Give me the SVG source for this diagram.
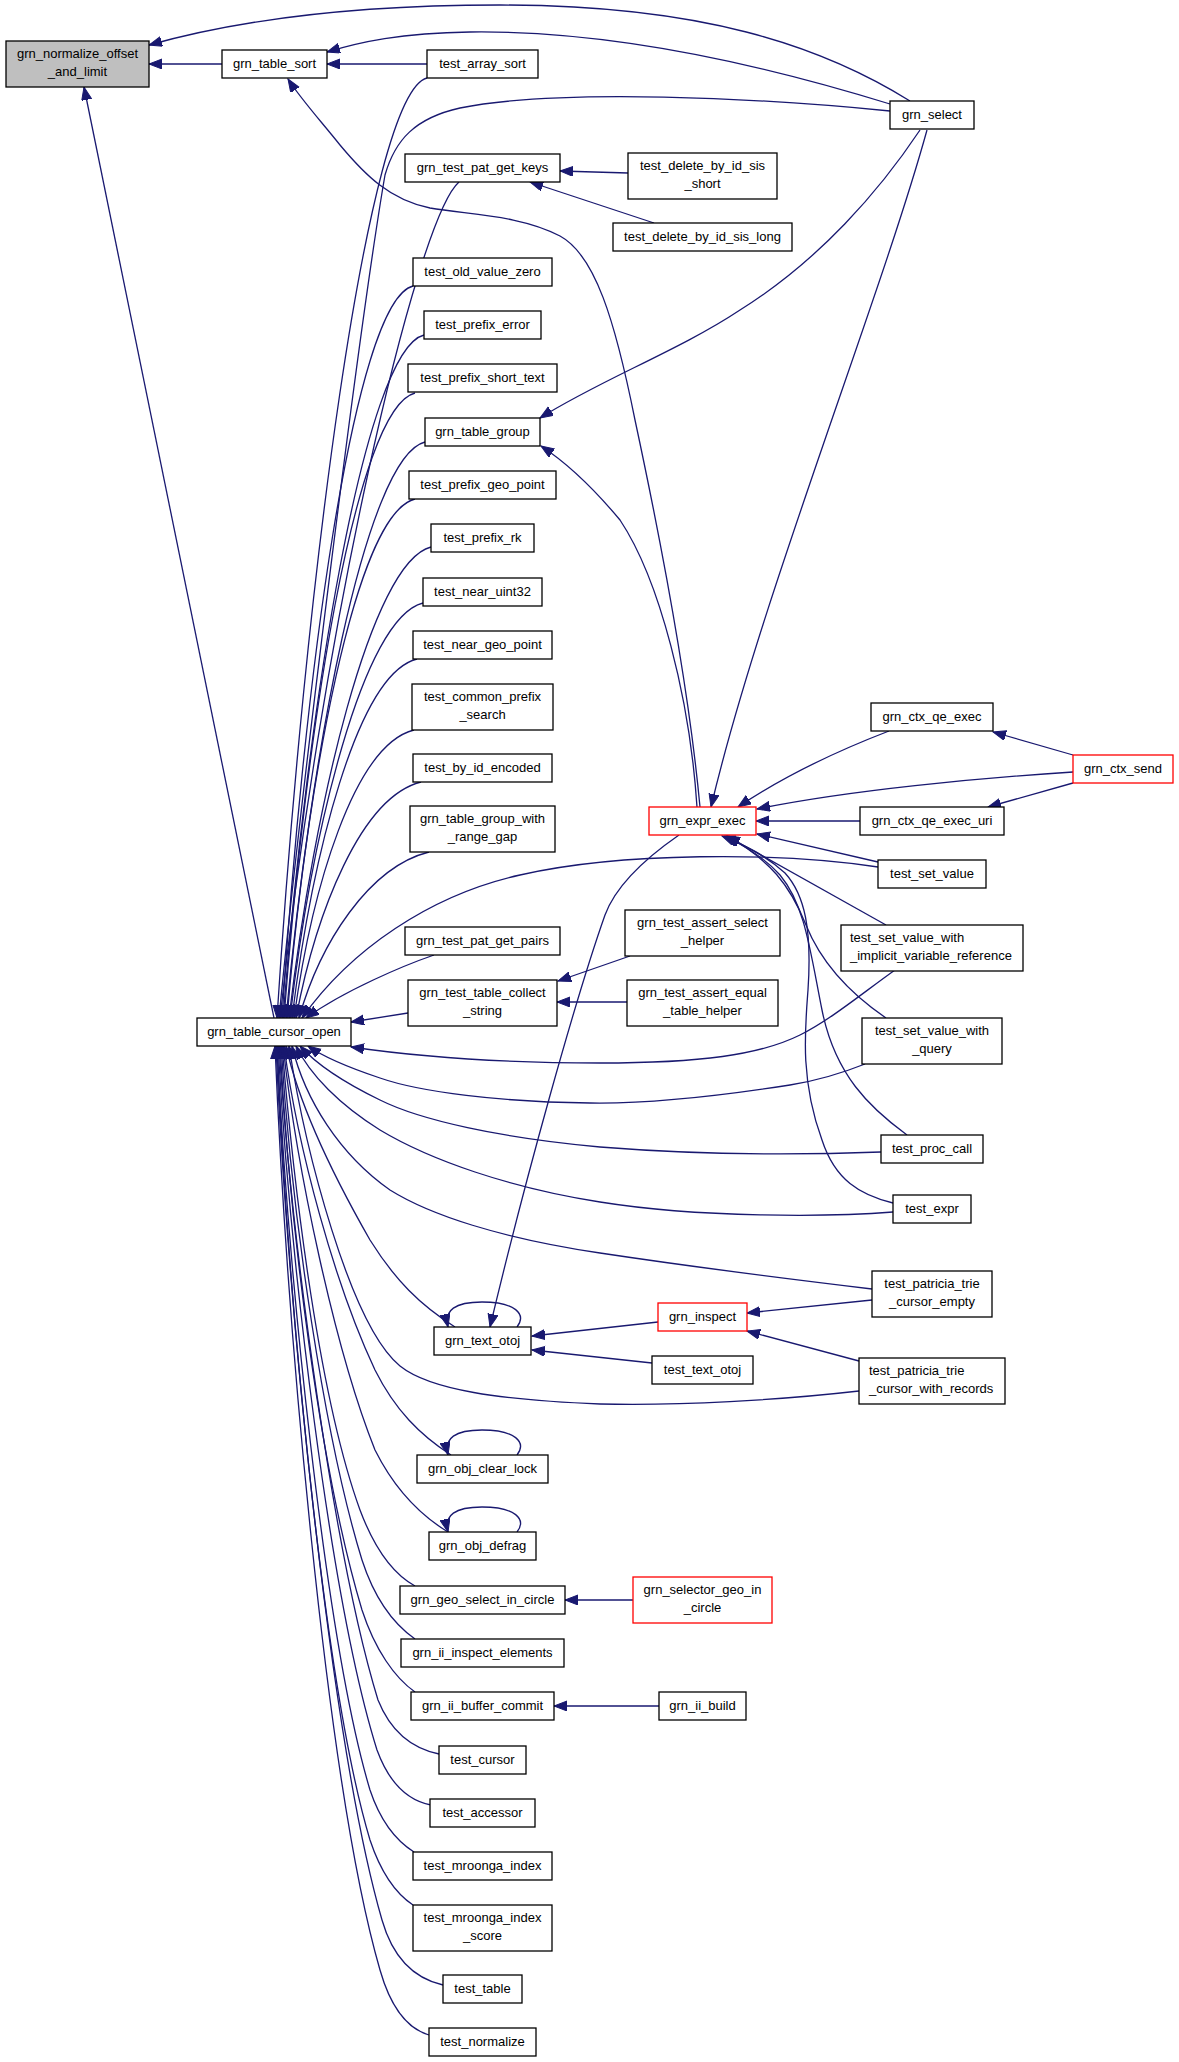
<svg xmlns="http://www.w3.org/2000/svg" width="1179" height="2062" viewBox="0 0 1179 2062">
<defs>
<marker id="a" markerUnits="userSpaceOnUse" markerWidth="14" markerHeight="11" refX="13" refY="5" orient="auto">
<path d="M0,0 L13,5 L0,10 z" fill="#191970" stroke="#191970" stroke-width="1"/>
</marker>
</defs>
<style>
.n rect{fill:#fff;stroke:#000;stroke-width:1.3}
.r rect{stroke:#ff0000}
.g rect{fill:#bfbfbf}
text{font-family:"Liberation Sans",Arial,Helvetica,sans-serif;font-size:13px;fill:#000;text-anchor:middle}
text.l{text-anchor:start}
#edges path{fill:none;stroke:#191970;stroke-width:1.3;marker-end:url(#a)}
</style>
<rect width="1179" height="2062" fill="#fff"/>
<g id="edges">
<path d="M222,64 L149,64"/>
<path d="M910,101 C820,45 700,5 500,5 C330,5 220,25 149,45"/>
<path d="M274,1018 L84,87"/>
<path d="M427,64 L327,64"/>
<path d="M890,104 C780,70 620,30 470,32 C400,33 360,42 327,52"/>
<path d="M700,807 C690,700 665,560 635,420 C615,320 595,255 560,236 C520,215 470,215 430,208 C390,200 365,175 340,145 C320,120 300,98 288,79"/>
<path d="M697,807 C690,700 660,580 620,520 C595,490 570,465 541,446"/>
<path d="M920,130 C880,190 820,260 740,310 C680,350 600,380 540,418"/>
<path d="M927,130 C880,300 760,600 711,807"/>
<path d="M427,78 C367,93 304,595 277,1018"/>
<path d="M890,111 C760,98 560,88 460,108 C415,118 395,140 385,175 C360,320 300,800 279,1018"/>
<path d="M459,182 C415,220 320,642 280,1018"/>
<path d="M413,286 C353,301 303,689 282,1018"/>
<path d="M424,335 C364,350 307,711 283,1018"/>
<path d="M415,393 C355,408 305,737 284,1018"/>
<path d="M425,442 C365,457 310,759 286,1018"/>
<path d="M415,499 C355,514 307,784 287,1018"/>
<path d="M431,547 C371,562 314,806 289,1018"/>
<path d="M423,603 C363,618 312,831 290,1018"/>
<path d="M417,659 C357,674 312,856 292,1018"/>
<path d="M414,730 C354,745 312,888 294,1018"/>
<path d="M421,782 C361,797 316,912 296,1018"/>
<path d="M429,852 C369,867 320,943 299,1018"/>
<path d="M878,867 C780,852 620,852 520,875 C430,895 350,950 302,1018"/>
<path d="M434,955 C405,965 345,990 306,1018"/>
<path d="M408,1013 L351,1022"/>
<path d="M895,970 C860,995 830,1020 800,1035 C760,1055 700,1063 600,1063 C500,1063 420,1057 351,1047"/>
<path d="M865,1064 C845,1072 815,1081 790,1085 C720,1096 650,1104 590,1103 C500,1102 420,1092 380,1078 C350,1068 325,1058 308,1046"/>
<path d="M881,1152 C800,1155 700,1155 600,1147 C500,1138 420,1120 380,1100 C345,1083 318,1066 300,1046"/>
<path d="M893,1212 C830,1217 700,1218 600,1202 C510,1188 430,1160 380,1130 C340,1105 310,1075 296,1046"/>
<path d="M872,1289 C780,1278 680,1265 600,1253 C500,1238 430,1215 390,1190 C340,1155 305,1100 292,1046"/>
<path d="M859,1391 C780,1400 680,1406 600,1404 C500,1400 430,1390 400,1366 C350,1325 305,1150 289,1046"/>
<path d="M455,1327 C420,1305 395,1280 370,1240 C330,1170 298,1100 286,1046"/>
<path d="M451,1455 C420,1435 395,1410 375,1370 C335,1285 298,1150 284,1046"/>
<path d="M448,1532 C420,1515 395,1490 375,1450 C335,1350 297,1170 283,1046"/>
<path d="M415,1586 C395,1575 375,1550 360,1510 C320,1400 295,1200 282,1046"/>
<path d="M415,1639 C395,1625 375,1600 362,1560 C325,1440 292,1220 281,1046"/>
<path d="M415,1692 C395,1678 375,1650 362,1610 C320,1470 290,1230 280,1046"/>
<path d="M439,1754 C410,1748 390,1730 378,1700 C335,1560 292,1250 279,1046"/>
<path d="M431,1805 C405,1800 388,1780 377,1750 C330,1600 290,1260 278,1046"/>
<path d="M414,1852 C395,1840 380,1820 370,1790 C325,1640 288,1270 277,1046"/>
<path d="M413,1905 C395,1893 380,1870 370,1840 C322,1680 287,1280 277,1046"/>
<path d="M443,1985 C412,1978 392,1955 382,1920 C330,1740 287,1300 276,1046"/>
<path d="M429,2035 C405,2028 390,2005 380,1970 C325,1780 286,1310 275,1046"/>
<path d="M517,1327 C527,1314 515,1302 482,1302 C455,1302 444,1310 448,1327"/>
<path d="M517,1455 C527,1442 515,1430 482,1430 C455,1430 444,1438 448,1455"/>
<path d="M517,1532 C527,1519 515,1507 482,1507 C455,1507 444,1515 448,1532"/>
<path d="M628,173 L560,171"/>
<path d="M654,223 L530,182"/>
<path d="M630,956 L558,981"/>
<path d="M627,1002 L557,1002"/>
<path d="M860,821 L756,821"/>
<path d="M889,731 C850,746 790,772 738,807"/>
<path d="M1073,755 L993,732"/>
<path d="M1073,772 C980,778 850,790 757,809"/>
<path d="M1073,783 L988,807"/>
<path d="M878,862 L757,834"/>
<path d="M886,925 L727,836"/>
<path d="M886,1018 C845,990 820,960 806,925 C790,885 770,860 727,836"/>
<path d="M907,1135 C870,1108 835,1075 822,1010 C810,950 805,905 780,875 C765,858 745,846 725,836"/>
<path d="M893,1203 C860,1195 835,1180 822,1140 C800,1080 805,1030 808,990 C812,930 805,895 785,873 C765,855 745,845 722,836"/>
<path d="M679,835 C640,862 615,888 605,915 C575,1000 525,1180 490,1327"/>
<path d="M658,1322 L532,1336"/>
<path d="M652,1363 L532,1350"/>
<path d="M872,1300 L747,1313"/>
<path d="M859,1361 L747,1331"/>
<path d="M633,1600 L565,1600"/>
<path d="M659,1706 L554,1706"/>
</g>
<g id="n_normalize" class="n g"><rect x="6" y="41" width="143" height="46"/><text x="77.5" y="58">grn_normalize_offset</text><text x="77.5" y="76">_and_limit</text></g>
<g id="n_table_sort" class="n"><rect x="222" y="50" width="105" height="28"/><text x="274.5" y="67.5">grn_table_sort</text></g>
<g id="n_test_array_sort" class="n"><rect x="427" y="50" width="111" height="28"/><text x="482.5" y="67.5">test_array_sort</text></g>
<g id="n_grn_select" class="n"><rect x="890" y="101" width="84" height="28"/><text x="932" y="118.5">grn_select</text></g>
<g id="n_pat_get_keys" class="n"><rect x="405" y="154" width="155" height="28"/><text x="482.5" y="171.5">grn_test_pat_get_keys</text></g>
<g id="n_sis_short" class="n"><rect x="628" y="153" width="149" height="46"/><text x="702.5" y="170">test_delete_by_id_sis</text><text x="702.5" y="188">_short</text></g>
<g id="n_sis_long" class="n"><rect x="613" y="223" width="179" height="28"/><text x="702.5" y="240.5">test_delete_by_id_sis_long</text></g>
<g id="n_old_value_zero" class="n"><rect x="413" y="258" width="139" height="28"/><text x="482.5" y="275.5">test_old_value_zero</text></g>
<g id="n_prefix_error" class="n"><rect x="424" y="311" width="117" height="28"/><text x="482.5" y="328.5">test_prefix_error</text></g>
<g id="n_prefix_short_text" class="n"><rect x="408" y="364" width="149" height="28"/><text x="482.5" y="381.5">test_prefix_short_text</text></g>
<g id="n_table_group" class="n"><rect x="425" y="418" width="115" height="28"/><text x="482.5" y="435.5">grn_table_group</text></g>
<g id="n_prefix_geo_point" class="n"><rect x="409" y="471" width="147" height="28"/><text x="482.5" y="488.5">test_prefix_geo_point</text></g>
<g id="n_prefix_rk" class="n"><rect x="431" y="524" width="103" height="28"/><text x="482.5" y="541.5">test_prefix_rk</text></g>
<g id="n_near_uint32" class="n"><rect x="423" y="578" width="119" height="28"/><text x="482.5" y="595.5">test_near_uint32</text></g>
<g id="n_near_geo_point" class="n"><rect x="413" y="631" width="139" height="28"/><text x="482.5" y="648.5">test_near_geo_point</text></g>
<g id="n_common_prefix_search" class="n"><rect x="412" y="684" width="141" height="46"/><text x="482.5" y="701">test_common_prefix</text><text x="482.5" y="719">_search</text></g>
<g id="n_by_id_encoded" class="n"><rect x="413" y="754" width="139" height="28"/><text x="482.5" y="771.5">test_by_id_encoded</text></g>
<g id="n_range_gap" class="n"><rect x="410" y="806" width="145" height="46"/><text x="482.5" y="823">grn_table_group_with</text><text x="482.5" y="841">_range_gap</text></g>
<g id="n_expr_exec" class="n r"><rect x="649" y="807" width="107" height="28"/><text x="702.5" y="824.5">grn_expr_exec</text></g>
<g id="n_qe_exec" class="n"><rect x="871" y="703" width="122" height="28"/><text x="932" y="720.5">grn_ctx_qe_exec</text></g>
<g id="n_ctx_send" class="n r"><rect x="1073" y="755" width="100" height="28"/><text x="1123" y="772.5">grn_ctx_send</text></g>
<g id="n_qe_exec_uri" class="n"><rect x="860" y="807" width="144" height="28"/><text x="932" y="824.5">grn_ctx_qe_exec_uri</text></g>
<g id="n_test_set_value" class="n"><rect x="878" y="860" width="108" height="28"/><text x="932" y="877.5">test_set_value</text></g>
<g id="n_assert_select_helper" class="n"><rect x="625" y="910" width="155" height="46"/><text x="702.5" y="927">grn_test_assert_select</text><text x="702.5" y="945">_helper</text></g>
<g id="n_implicit" class="n"><rect x="841" y="925" width="182" height="46"/><text class="l" x="850" y="942">test_set_value_with</text><text class="l" x="850" y="960">_implicit_variable_reference</text></g>
<g id="n_pat_get_pairs" class="n"><rect x="405" y="927" width="155" height="28"/><text x="482.5" y="944.5">grn_test_pat_get_pairs</text></g>
<g id="n_collect_string" class="n"><rect x="408" y="980" width="149" height="46"/><text x="482.5" y="997">grn_test_table_collect</text><text x="482.5" y="1015">_string</text></g>
<g id="n_assert_equal_table_helper" class="n"><rect x="627" y="980" width="151" height="46"/><text x="702.5" y="997">grn_test_assert_equal</text><text x="702.5" y="1015">_table_helper</text></g>
<g id="n_cursor_open" class="n"><rect x="197" y="1018" width="154" height="28"/><text x="274" y="1035.5">grn_table_cursor_open</text></g>
<g id="n_with_query" class="n"><rect x="862" y="1018" width="140" height="46"/><text x="932" y="1035">test_set_value_with</text><text x="932" y="1053">_query</text></g>
<g id="n_proc_call" class="n"><rect x="881" y="1135" width="102" height="28"/><text x="932" y="1152.5">test_proc_call</text></g>
<g id="n_test_expr" class="n"><rect x="893" y="1195" width="78" height="28"/><text x="932" y="1212.5">test_expr</text></g>
<g id="n_patricia_empty" class="n"><rect x="872" y="1271" width="120" height="46"/><text x="932" y="1288">test_patricia_trie</text><text x="932" y="1306">_cursor_empty</text></g>
<g id="n_inspect" class="n r"><rect x="658" y="1303" width="89" height="28"/><text x="702.5" y="1320.5">grn_inspect</text></g>
<g id="n_text_otoj" class="n"><rect x="434" y="1327" width="97" height="28"/><text x="482.5" y="1344.5">grn_text_otoj</text></g>
<g id="n_test_text_otoj" class="n"><rect x="652" y="1356" width="101" height="28"/><text x="702.5" y="1373.5">test_text_otoj</text></g>
<g id="n_patricia_records" class="n"><rect x="859" y="1358" width="146" height="46"/><text class="l" x="869" y="1375">test_patricia_trie</text><text class="l" x="869" y="1393">_cursor_with_records</text></g>
<g id="n_clear_lock" class="n"><rect x="417" y="1455" width="131" height="28"/><text x="482.5" y="1472.5">grn_obj_clear_lock</text></g>
<g id="n_defrag" class="n"><rect x="429" y="1532" width="107" height="28"/><text x="482.5" y="1549.5">grn_obj_defrag</text></g>
<g id="n_selector_geo" class="n r"><rect x="633" y="1577" width="139" height="46"/><text x="702.5" y="1594">grn_selector_geo_in</text><text x="702.5" y="1612">_circle</text></g>
<g id="n_geo_select" class="n"><rect x="400" y="1586" width="165" height="28"/><text x="482.5" y="1603.5">grn_geo_select_in_circle</text></g>
<g id="n_ii_inspect" class="n"><rect x="401" y="1639" width="163" height="28"/><text x="482.5" y="1656.5">grn_ii_inspect_elements</text></g>
<g id="n_ii_buffer_commit" class="n"><rect x="411" y="1692" width="143" height="28"/><text x="482.5" y="1709.5">grn_ii_buffer_commit</text></g>
<g id="n_ii_build" class="n"><rect x="659" y="1692" width="87" height="28"/><text x="702.5" y="1709.5">grn_ii_build</text></g>
<g id="n_test_cursor" class="n"><rect x="439" y="1746" width="87" height="28"/><text x="482.5" y="1763.5">test_cursor</text></g>
<g id="n_test_accessor" class="n"><rect x="430" y="1799" width="105" height="28"/><text x="482.5" y="1816.5">test_accessor</text></g>
<g id="n_mroonga_index" class="n"><rect x="413" y="1852" width="139" height="28"/><text x="482.5" y="1869.5">test_mroonga_index</text></g>
<g id="n_mroonga_score" class="n"><rect x="413" y="1905" width="139" height="46"/><text x="482.5" y="1922">test_mroonga_index</text><text x="482.5" y="1940">_score</text></g>
<g id="n_test_table" class="n"><rect x="443" y="1975" width="79" height="28"/><text x="482.5" y="1992.5">test_table</text></g>
<g id="n_test_normalize" class="n"><rect x="429" y="2028" width="107" height="28"/><text x="482.5" y="2045.5">test_normalize</text></g>
</svg>
